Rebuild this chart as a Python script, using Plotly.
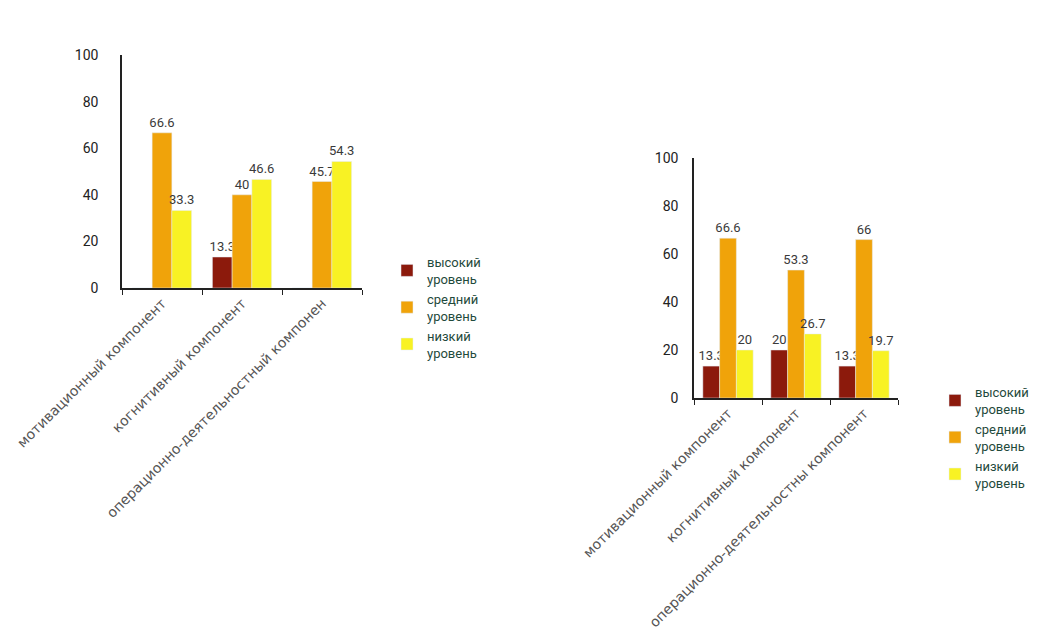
import plotly.graph_objects as go

categories_left = ["мотивационный компонент", "когнитивный компонент", "операционно-деятельностный компонен"]
categories_right = ["мотивационный компонент", "когнитивный компонент", "операционно-деятельностны компонент"]
series_names = ["высокий<br>уровень", "средний<br>уровень", "низкий<br>уровень"]
left_high = [0, 13.3, 0]
left_mid = [66.6, 40, 45.7]
left_low = [33.3, 46.6, 54.3]
right_high = [13.3, 20, 13.3]
right_mid = [66.6, 53.3, 66]
right_low = [20, 26.7, 19.7]
colors = ["#8c1a0c", "#f0a30a", "#f8f224"]
y_ticks = [0, 20, 40, 60, 80, 100]

def lab(vals):
    return [f"{v:g}" if v else "" for v in vals]

fig = go.Figure()
left = [left_high, left_mid, left_low]
right = [right_high, right_mid, right_low]
for i in range(3):
    fig.add_trace(go.Bar(x=categories_left, y=left[i], name=series_names[i], marker_color=colors[i],
                         text=lab(left[i]), textposition="outside", cliponaxis=False,
                         textfont=dict(size=13, color="#3a3a3a"), xaxis="x", yaxis="y",
                         legend="legend"))
for i in range(3):
    fig.add_trace(go.Bar(x=categories_right, y=right[i], name=series_names[i], marker_color=colors[i],
                         text=lab(right[i]), textposition="outside", cliponaxis=False,
                         textfont=dict(size=13, color="#3a3a3a"), xaxis="x2", yaxis="y2",
                         legend="legend2"))

W, H = 1050, 639
OFF = 8  # page body margin
def px_x(v): return (v - OFF) / W
def px_y(v): return 1 - (v - OFF) / H

axis_common_x = dict(showline=True, linecolor="#222", linewidth=1.5, ticks="outside", tickson="boundaries",
                     ticklen=5, tickcolor="#222", tickangle=-45, showgrid=False, automargin=False,
                     tickfont=dict(size=14, color="#555", family="DejaVu Sans"))
axis_common_y = dict(showline=True, linecolor="#222", linewidth=1.5, range=[0, 100], tickvals=y_ticks,
                     showgrid=False, zeroline=False, ticks="", automargin=False,
                     tickfont=dict(size=14, color="#222", family="Roboto"))

fig.update_layout(
    width=W, height=H, margin=dict(l=0, r=0, t=0, b=0, autoexpand=False),
    paper_bgcolor="white", plot_bgcolor="white",
    barmode="group", bargap=0.26, bargroupgap=0,
    uniformtext=dict(minsize=13, mode="show"),
    font=dict(family="Roboto"),
    xaxis=dict(domain=[px_x(122), px_x(362)], anchor="y", **axis_common_x),
    yaxis=dict(domain=[px_y(288), px_y(55)], anchor="x", ticklabelstandoff=19, **axis_common_y),
    xaxis2=dict(domain=[px_x(694), px_x(898)], anchor="y2", **axis_common_x),
    yaxis2=dict(domain=[px_y(398), px_y(158)], anchor="x2", ticklabelstandoff=11, **axis_common_y),
    legend=dict(x=px_x(387), y=px_y(247), xanchor="left", yanchor="top",
                font=dict(size=13, color="#1f4a3c"), tracegroupgap=0, itemwidth=30,
                bgcolor="rgba(0,0,0,0)"),
    legend2=dict(x=px_x(935), y=px_y(377), xanchor="left", yanchor="top",
                 font=dict(size=13, color="#1f4a3c"), tracegroupgap=0, itemwidth=30,
                 bgcolor="rgba(0,0,0,0)"),
    showlegend=True,
)
fig.write_html("out.html")
